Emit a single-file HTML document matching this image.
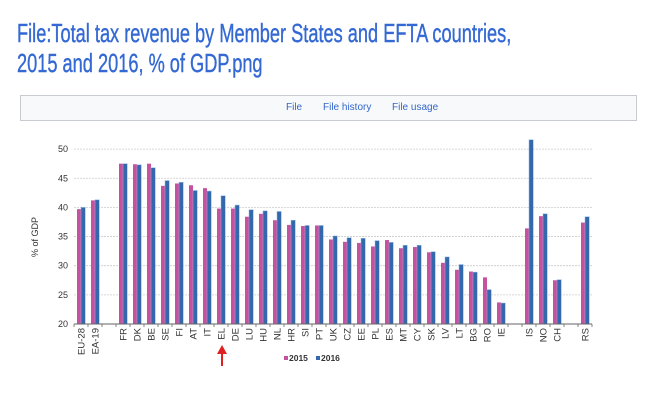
<!DOCTYPE html>
<html><head><meta charset="utf-8"><style>
html,body{margin:0;padding:0;background:#fff;width:660px;height:403px;overflow:hidden;font-family:"Liberation Sans",sans-serif}
.t{position:absolute;left:17px;color:#3469d4;font-size:26px;white-space:nowrap;transform:scaleX(0.7);transform-origin:0 0;letter-spacing:0px;-webkit-text-stroke:0.4px #3469d4}
.bar{position:absolute;left:20px;top:95px;width:617px;height:26px;background:#f8f9fa;border:1px solid #c8ccd1;box-sizing:border-box}
.l{position:absolute;top:102px;font-size:10px;color:#3366cc}
</style></head><body>
<div class="t" style="top:18px">File:Total tax revenue by Member States and EFTA countries,</div>
<div class="t" style="top:48px">2015 and 2016, % of GDP.png</div>
<div class="bar"></div>
<div class="l" style="left:286px">File</div>
<div class="l" style="left:323px">File history</div>
<div class="l" style="left:392px">File usage</div>
<svg id="s" width="660" height="403" style="position:absolute;left:0;top:0" font-family="Liberation Sans, sans-serif"></svg>
<script>
var d=[["EU-28",39.7,40.0],["EA-19",41.2,41.3],null,["FR",47.5,47.5],["DK",47.4,47.3],["BE",47.5,46.8],["SE",43.7,44.6],["FI",44.1,44.3],["AT",43.8,42.9],["IT",43.3,42.8],["EL",39.8,42.0],["DE",39.8,40.4],["LU",38.4,39.6],["HU",38.9,39.4],["NL",37.8,39.3],["HR",37.0,37.8],["SI",36.8,36.9],["PT",36.9,36.9],["UK",34.5,35.1],["CZ",34.1,34.8],["EE",33.9,34.7],["PL",33.3,34.3],["ES",34.4,34.0],["MT",33.0,33.5],["CY",33.2,33.5],["SK",32.3,32.4],["LV",30.5,31.5],["LT",29.3,30.2],["BG",29.0,28.9],["RO",28.0,25.9],["IE",23.7,23.6],null,["IS",36.4,51.6],["NO",38.5,38.9],["CH",27.5,27.6],null,["RS",37.4,38.4]];
var h='',y0=324,k=5.83,x0=74,w=14;
function Y(v){return y0-(v-20)*k}
for(var v=25;v<=50;v+=5){h+='<line x1="74" x2="592" y1="'+Y(v)+'" y2="'+Y(v)+'" stroke="#ccc" stroke-width="0.8" stroke-dasharray="2,1"/>';}
for(var v=20;v<=50;v+=5){h+='<text x="68" y="'+(Y(v)+3)+'" font-size="9" text-anchor="end" fill="#333">'+v+'</text>';}
h+='<text transform="translate(38,237) rotate(-90)" font-size="9" text-anchor="middle" fill="#333">% of GDP</text>';
for(var i=0;i<d.length;i++){var c=x0+w*i+7;h+='<line x1="'+(x0+w*i)+'" x2="'+(x0+w*i)+'" y1="324" y2="327" stroke="#666" stroke-width="0.8"/>';
if(!d[i])continue;var a=d[i];
h+='<rect x="'+(c-4)+'" y="'+Y(a[1])+'" width="4" height="'+(y0-Y(a[1]))+'" fill="#c5519f"/>';
h+='<rect x="'+c+'" y="'+Y(a[2])+'" width="4.3" height="'+(y0-Y(a[2]))+'" fill="#3468ad" stroke="#8fb6e8" stroke-width="0.5"/>';
h+='<text transform="translate('+(c+3.5)+',328) rotate(-90)" font-size="9.5" text-anchor="end" fill="#333">'+a[0]+'</text>';}
h+='<line x1="592" x2="592" y1="324" y2="327" stroke="#666" stroke-width="0.8"/>';
h+='<line x1="74" x2="592" y1="324" y2="324" stroke="#666" stroke-width="1"/>';
h+='<rect x="284" y="356" width="4" height="4" fill="#c5519f"/><text x="289" y="361" font-size="8.5" font-weight="bold" fill="#333">2015</text>';
h+='<rect x="316" y="356" width="4" height="4" fill="#3468ad"/><text x="321" y="361" font-size="8.5" font-weight="bold" fill="#333">2016</text>';
h+='<line x1="222" x2="222" y1="366" y2="352" stroke="#e02020" stroke-width="2"/><polygon points="222,345 217,354 227,354" fill="#e02020"/>';
document.getElementById('s').innerHTML=h;
</script>
</body></html>
